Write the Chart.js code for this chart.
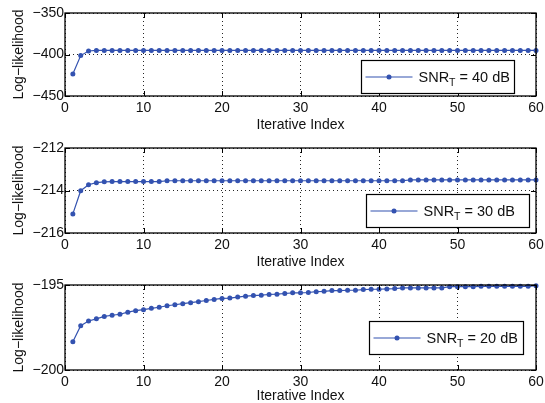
<!DOCTYPE html>
<html>
<head>
<meta charset="utf-8">
<script src="https://cdn.jsdelivr.net/npm/chart.js@4.4.0/dist/chart.umd.min.js"></script>
<style>
  html, body { margin: 0; padding: 0; background: #fff; }
  #wrap { position: relative; width: 545px; height: 403px; overflow: hidden; background: #fff; }
  #wrap canvas { position: absolute; left: 0; }
</style>
</head>
<body>
<div id="wrap">
  <canvas id="p40"></canvas>
  <canvas id="p30"></canvas>
  <canvas id="p20"></canvas>
</div>
<script>
// Iteration index shared by all three runs
const iterations = [
  1, 2, 3, 4, 5, 6, 7, 8, 9, 10, 11, 12, 13, 14, 15, 16, 17, 18, 19, 20,
  21, 22, 23, 24, 25, 26, 27, 28, 29, 30, 31, 32, 33, 34, 35, 36, 37, 38, 39, 40,
  41, 42, 43, 44, 45, 46, 47, 48, 49, 50, 51, 52, 53, 54, 55, 56, 57, 58, 59, 60
];

// Log-likelihood per iteration, SNR_T = 40 dB
const loglik40 = [
  -423.5, -401.3, -395.8, -395.1, -395.1, -395.1, -395.1, -395.1, -395.1, -395.1,
  -395.1, -395.1, -395.1, -395.1, -395.1, -395.1, -395.1, -395.1, -395.1, -395.1,
  -395.1, -395.1, -395.1, -395.1, -395.1, -395.1, -395.1, -395.1, -395.1, -395.1,
  -395.1, -395.1, -395.1, -395.1, -395.1, -395.1, -395.1, -395.1, -395.1, -395.1,
  -395.1, -395.1, -395.1, -395.1, -395.1, -395.1, -395.1, -395.1, -395.1, -395.1,
  -395.1, -395.1, -395.1, -395.1, -395.1, -395.1, -395.1, -395.1, -395.1, -395.1
];

// Log-likelihood per iteration, SNR_T = 30 dB
const loglik30 = [
  -215.10, -214.01, -213.73, -213.63, -213.59, -213.58, -213.58, -213.58, -213.58, -213.58,
  -213.58, -213.58, -213.54, -213.54, -213.54, -213.54, -213.54, -213.54, -213.54, -213.54,
  -213.54, -213.54, -213.54, -213.54, -213.54, -213.54, -213.54, -213.54, -213.54, -213.54,
  -213.54, -213.54, -213.54, -213.54, -213.54, -213.54, -213.54, -213.54, -213.54, -213.54,
  -213.54, -213.54, -213.54, -213.50, -213.50, -213.50, -213.50, -213.50, -213.50, -213.50,
  -213.50, -213.50, -213.50, -213.50, -213.50, -213.50, -213.50, -213.50, -213.50, -213.50
];

// Log-likelihood per iteration, SNR_T = 20 dB
const loglik20 = [
  -198.34, -197.39, -197.12, -196.99, -196.85, -196.78, -196.72, -196.60, -196.51, -196.45,
  -196.37, -196.31, -196.22, -196.16, -196.10, -196.04, -195.98, -195.91, -195.85, -195.79,
  -195.77, -195.71, -195.66, -195.62, -195.60, -195.56, -195.54, -195.50, -195.46, -195.46,
  -195.44, -195.39, -195.37, -195.33, -195.33, -195.31, -195.31, -195.27, -195.25, -195.25,
  -195.23, -195.21, -195.17, -195.17, -195.17, -195.17, -195.17, -195.17, -195.10, -195.10,
  -195.10, -195.10, -195.08, -195.08, -195.08, -195.08, -195.08, -195.08, -195.08, -195.04
];

// Axis ticks
const xTicks = [0, 10, 20, 30, 40, 50, 60];
const yTicks40 = [-450, -400, -350];
const yTicks30 = [-216, -214, -212];
const yTicks20 = [-200, -195];

// SNR levels shown in the legends (dB)
const snrLevels = [40, 30, 20];

const FONT = '"Liberation Sans", Arial, Helvetica, sans-serif';
const LINE_BLUE = '#3352b0';
const TEXT = '#111';

// Panel layout: canvas placement and plot-box geometry (pixels)
const panels = [
  { id: 'p40', values: loglik40, yTicks: yTicks40, snr: snrLevels[0],
    top: 0,   height: 135, areaTop: 13, areaBottom: 96, xTitlePad: 1.6,
    legend: { w: 153, h: 33, right: 22, bottom: 3 } },
  { id: 'p30', values: loglik30, yTicks: yTicks30, snr: snrLevels[1],
    top: 135, height: 136, areaTop: 13, areaBottom: 98, xTitlePad: 0.6,
    legend: { w: 163, h: 33, right: 7, bottom: 6 } },
  { id: 'p20', values: loglik20, yTicks: yTicks20, snr: snrLevels[2],
    top: 271, height: 132, areaTop: 14, areaBottom: 99, xTitlePad: -2,
    legend: { w: 154, h: 33, right: 13, bottom: 16 } }
];

const AREA_LEFT = 65;
const AREA_RIGHT = 536;

const minusSign = v => String(v).replace('-', '\u2212');

// Box frame with inward tick marks, plus the boxed legend
const framePlugin = {
  id: 'frameAndLegend',
  afterDraw(chart, args, opts) {
    const ctx = chart.ctx;
    const a = chart.chartArea;
    const xs = chart.scales.x, ys = chart.scales.y;
    ctx.save();
    ctx.strokeStyle = '#000';
    ctx.lineWidth = 1;
    const tl = 5;
    ctx.beginPath();
    xs.ticks.forEach(t => {
      const px = Math.round(xs.getPixelForValue(t.value)) + 0.5;
      ctx.moveTo(px, a.bottom); ctx.lineTo(px, a.bottom - tl);
      ctx.moveTo(px, a.top); ctx.lineTo(px, a.top + tl);
    });
    ys.ticks.forEach(t => {
      const py = Math.round(ys.getPixelForValue(t.value)) + 0.5;
      ctx.moveTo(a.left, py); ctx.lineTo(a.left + tl, py);
      ctx.moveTo(a.right, py); ctx.lineTo(a.right - tl, py);
    });
    ctx.stroke();

    // legend box
    const L = opts.legend;
    const bx = Math.round(a.right - L.right - L.w) + 0.5;
    const by = Math.round(a.bottom - L.bottom - L.h) + 0.5;
    ctx.fillStyle = '#fff';
    ctx.fillRect(bx, by, L.w, L.h);
    ctx.strokeStyle = '#000';
    ctx.lineWidth = 1.2;
    ctx.strokeRect(bx, by, L.w, L.h);
    const cy = by + L.h / 2;
    ctx.strokeStyle = LINE_BLUE;
    ctx.lineWidth = 1.2;
    ctx.beginPath();
    ctx.moveTo(bx + 4, cy); ctx.lineTo(bx + 51, cy);
    ctx.stroke();
    ctx.fillStyle = LINE_BLUE;
    ctx.beginPath();
    ctx.arc(bx + 27.5, cy, 2.5, 0, Math.PI * 2);
    ctx.fill();

    ctx.fillStyle = TEXT;
    ctx.textBaseline = 'alphabetic';
    ctx.textAlign = 'left';
    let tx = bx + 57;
    const base = cy + 5;
    ctx.font = '14.5px ' + FONT;
    ctx.fillText('SNR', tx, base);
    tx += ctx.measureText('SNR').width;
    ctx.font = '10.5px ' + FONT;
    ctx.fillText('T', tx, base + 4);
    tx += ctx.measureText('T').width;
    ctx.font = '14.5px ' + FONT;
    ctx.fillText(' = ' + opts.snr + ' dB', tx, base);

    // outer frame
    ctx.strokeStyle = '#000';
    ctx.lineWidth = 1.3;
    ctx.strokeRect(a.left, a.top, a.right - a.left, a.bottom - a.top);
    ctx.restore();
  }
};

panels.forEach(p => {
  const cv = document.getElementById(p.id);
  cv.width = 545;
  cv.height = p.height;
  cv.style.top = p.top + 'px';
  cv.style.width = '545px';
  cv.style.height = p.height + 'px';

  new Chart(cv, {
    type: 'line',
    data: {
      datasets: [{
        label: 'SNR_T = ' + p.snr + ' dB',
        data: iterations.map((it, i) => ({ x: it, y: p.values[i] })),
        borderColor: LINE_BLUE,
        backgroundColor: LINE_BLUE,
        borderWidth: 1.2,
        pointRadius: 2.5,
        pointHoverRadius: 2.5,
        pointBorderWidth: 0,
        pointBackgroundColor: LINE_BLUE,
        tension: 0,
        fill: false,
        clip: false
      }]
    },
    options: {
      responsive: false,
      animation: false,
      events: [],
      layout: { padding: { top: p.areaTop, left: 0, right: 545 - AREA_RIGHT, bottom: 0 } },
      plugins: {
        legend: { display: false },
        tooltip: { enabled: false },
        frameAndLegend: { legend: p.legend, snr: p.snr }
      },
      scales: {
        x: {
          type: 'linear',
          min: xTicks[0],
          max: xTicks[xTicks.length - 1],
          afterBuildTicks: s => { s.ticks = xTicks.map(v => ({ value: v })); },
          afterFit: s => {
            s.height = p.height - p.areaBottom;
            s.paddingLeft = 0;
            s.paddingRight = 0;
          },
          ticks: {
            color: TEXT, font: { family: FONT, size: 14 }, padding: 4,
            maxRotation: 0, autoSkip: false
          },
          grid: { color: 'rgba(0,0,0,0.85)', lineWidth: 1, drawTicks: false },
          border: { display: false, dash: [1, 3] },
          title: {
            display: true, text: 'Iterative Index', color: TEXT,
            font: { family: FONT, size: 14 }, padding: { top: 0, bottom: p.xTitlePad }
          }
        },
        y: {
          type: 'linear',
          min: p.yTicks[0],
          max: p.yTicks[p.yTicks.length - 1],
          afterBuildTicks: s => { s.ticks = p.yTicks.map(v => ({ value: v })); },
          afterFit: s => {
            s.width = AREA_LEFT;
            s.paddingTop = 0;
            s.paddingBottom = 0;
          },
          ticks: {
            color: TEXT, font: { family: FONT, size: 14 }, padding: 1,
            callback: v => minusSign(v), autoSkip: false
          },
          grid: { color: 'rgba(0,0,0,0.85)', lineWidth: 1, drawTicks: false },
          border: { display: false, dash: [1, 3] },
          title: {
            display: true, text: 'Log\u2212likelihood', color: TEXT,
            font: { family: FONT, size: 14 }, padding: { top: 10.5, bottom: 0 }
          }
        }
      }
    },
    plugins: [framePlugin]
  });
});
</script>
</body>
</html>
